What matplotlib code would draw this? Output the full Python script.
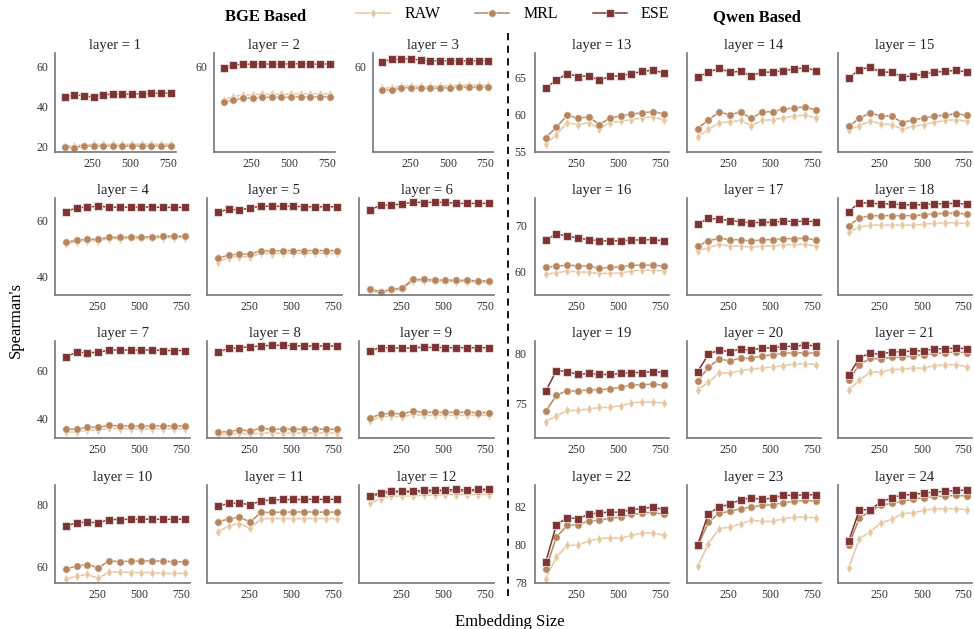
import matplotlib.pyplot as plt
from matplotlib.lines import Line2D

plt.rcParams['font.family'] = ['Liberation Serif', 'DejaVu Serif']

# embedding sizes on the x axis
sizes = [64, 128, 192, 256, 320, 384, 448, 512, 576, 640, 704, 768]

# Spearman's per layer (layers 1-12 BGE, 13-24 Qwen)
raw_scores = [
    [20.4, 20.3, 21.0, 21.1, 21.1, 21.1, 21.1, 21.1, 21.2, 21.2, 21.2, 21.2],
    [43.5, 45.0, 45.8, 46.0, 46.2, 46.2, 46.2, 46.3, 46.5, 46.5, 46.5, 46.5],
    [49.3, 49.5, 50.5, 50.5, 50.3, 50.2, 50.4, 50.5, 50.8, 50.9, 50.8, 50.9],
    [51.5, 52.4, 52.7, 52.7, 53.4, 53.4, 53.5, 53.5, 53.6, 53.8, 53.8, 53.8],
    [45.3, 46.7, 47.1, 47.0, 48.2, 48.1, 48.2, 48.2, 48.2, 48.2, 48.2, 48.2],
    [35.0, 34.2, 35.0, 35.5, 38.5, 38.5, 38.3, 38.3, 38.2, 38.2, 38.0, 38.0],
    [34.2, 34.2, 35.0, 35.0, 35.8, 35.6, 35.6, 35.4, 35.6, 35.6, 35.6, 35.6],
    [33.0, 33.2, 33.6, 33.3, 33.8, 33.7, 33.7, 33.7, 33.8, 33.8, 33.8, 33.8],
    [38.8, 40.5, 40.9, 40.5, 41.7, 41.2, 41.2, 41.2, 41.2, 41.2, 41.2, 41.2],
    [55.7, 56.7, 57.3, 56.0, 58.1, 58.1, 57.9, 57.9, 57.9, 57.6, 57.6, 57.6],
    [71.1, 73.0, 73.8, 72.2, 75.4, 75.4, 75.4, 75.4, 75.4, 75.4, 75.4, 75.4],
    [80.3, 81.9, 82.7, 82.7, 82.7, 83.0, 83.0, 83.2, 83.2, 83.2, 83.2, 83.2],
    [56.0, 57.3, 58.9, 58.65, 58.9, 58.1, 58.9, 59.1, 59.3, 59.55, 59.7, 59.3],
    [57.0, 58.0, 58.9, 59.0, 59.2, 58.5, 59.2, 59.3, 59.55, 59.8, 59.9, 59.55],
    [57.9, 58.5, 59.1, 58.75, 58.65, 58.0, 58.4, 58.65, 58.95, 59.2, 59.3, 59.1],
    [59.3, 59.6, 60.0, 59.85, 59.7, 59.5, 59.5, 59.6, 60.0, 60.2, 60.2, 60.0],
    [64.5, 65.2, 65.9, 65.6, 65.55, 65.25, 65.55, 65.6, 65.8, 65.9, 65.9, 65.6],
    [68.7, 69.7, 70.2, 70.2, 70.2, 70.2, 70.2, 70.4, 70.6, 70.7, 70.7, 70.6],
    [73.1, 73.7, 74.25, 74.25, 74.4, 74.55, 74.55, 74.75, 75.0, 75.1, 75.1, 75.0],
    [76.35, 77.1, 78.05, 78.05, 78.3, 78.45, 78.55, 78.65, 78.8, 78.95, 79.0, 78.9],
    [76.35, 77.3, 78.15, 78.15, 78.4, 78.45, 78.55, 78.55, 78.8, 78.9, 78.9, 78.7],
    [78.21, 79.34, 79.95, 79.95, 80.17, 80.3, 80.33, 80.33, 80.47, 80.59, 80.59, 80.47],
    [78.85, 80.04, 80.82, 80.9, 81.08, 81.25, 81.2, 81.2, 81.34, 81.42, 81.42, 81.39],
    [78.78, 80.3, 80.64, 81.13, 81.3, 81.6, 81.65, 81.77, 81.86, 81.86, 81.86, 81.81],
]

mrl_scores = [
    [19.7, 19.5, 20.3, 20.3, 20.3, 20.3, 20.3, 20.3, 20.3, 20.3, 20.3, 20.3],
    [42.2, 43.3, 44.2, 44.3, 44.7, 44.7, 44.7, 44.7, 45.0, 45.0, 45.0, 45.0],
    [48.3, 48.3, 49.5, 49.5, 49.2, 49.2, 49.3, 49.5, 49.7, 49.8, 49.7, 49.8],
    [52.1, 52.9, 53.2, 53.2, 53.9, 53.9, 54.0, 54.0, 54.1, 54.3, 54.3, 54.3],
    [46.5, 47.6, 48.0, 47.9, 49.2, 49.0, 49.2, 49.2, 49.2, 49.2, 49.2, 49.2],
    [35.5, 34.7, 35.5, 36.0, 39.0, 39.0, 38.8, 38.8, 38.7, 38.7, 38.5, 38.5],
    [35.4, 35.4, 36.2, 36.2, 37.0, 36.8, 36.8, 36.6, 36.8, 36.8, 36.8, 36.8],
    [34.1, 34.4, 35.1, 34.7, 35.8, 35.4, 35.4, 35.4, 35.4, 35.4, 35.4, 35.4],
    [40.0, 41.7, 42.1, 41.8, 43.1, 42.5, 42.5, 42.5, 42.5, 42.5, 42.4, 42.4],
    [58.9, 60.1, 60.5, 59.4, 61.7, 61.4, 61.6, 61.6, 61.7, 61.6, 61.4, 61.4],
    [74.2, 75.4, 75.8, 74.3, 77.4, 77.4, 77.5, 77.5, 77.6, 77.5, 77.5, 77.5],
    [82.5, 83.3, 83.8, 83.9, 83.9, 84.1, 84.1, 84.2, 84.3, 84.3, 84.4, 84.4],
    [56.9, 58.3, 59.9, 59.5, 59.7, 58.65, 59.55, 59.8, 60.1, 60.2, 60.4, 60.1],
    [58.1, 59.3, 60.3, 60.0, 60.3, 59.5, 60.3, 60.4, 60.7, 60.9, 61.0, 60.6],
    [58.4, 59.5, 60.2, 59.8, 59.8, 58.9, 59.3, 59.5, 59.8, 59.9, 60.1, 59.9],
    [60.8, 61.1, 61.3, 61.2, 61.1, 60.6, 60.8, 60.95, 61.3, 61.3, 61.3, 61.1],
    [65.55, 66.7, 67.25, 67.0, 66.9, 66.7, 66.9, 67.0, 67.2, 67.2, 67.25, 66.9],
    [70.0, 71.85, 72.2, 72.3, 72.3, 72.3, 72.3, 72.45, 72.7, 72.8, 72.8, 72.7],
    [74.15, 75.8, 76.25, 76.2, 76.35, 76.35, 76.45, 76.6, 76.85, 76.85, 76.95, 76.8],
    [77.2, 78.65, 79.45, 79.3, 79.55, 79.55, 79.8, 79.9, 80.05, 80.1, 80.1, 80.05],
    [77.3, 78.9, 79.55, 79.45, 79.65, 79.65, 79.8, 79.9, 80.05, 80.1, 80.2, 80.1],
    [78.73, 80.38, 80.99, 81.03, 81.22, 81.25, 81.37, 81.42, 81.56, 81.63, 81.68, 81.56],
    [79.9, 81.16, 81.63, 81.72, 81.86, 81.95, 82.03, 82.07, 82.17, 82.24, 82.3, 82.26],
    [79.95, 81.39, 81.72, 82.03, 82.15, 82.24, 82.35, 82.44, 82.5, 82.52, 82.56, 82.52],
]

ese_scores = [
    [45.0, 45.8, 45.5, 44.7, 46.0, 46.2, 46.2, 46.3, 46.5, 46.7, 46.7, 46.8],
    [59.2, 60.8, 61.3, 61.3, 61.5, 61.3, 61.3, 61.5, 61.5, 61.3, 61.3, 61.5],
    [62.5, 63.7, 64.0, 64.0, 63.3, 63.0, 63.0, 63.0, 63.0, 63.0, 63.0, 63.0],
    [62.9, 64.3, 64.6, 64.9, 64.6, 64.5, 64.6, 64.6, 64.6, 64.5, 64.5, 64.5],
    [62.7, 63.9, 63.5, 64.3, 64.9, 64.9, 64.9, 64.9, 64.7, 64.7, 64.7, 64.7],
    [63.5, 65.3, 65.3, 65.7, 66.3, 66.2, 66.3, 66.3, 65.9, 65.9, 65.9, 65.9],
    [65.9, 67.7, 67.6, 67.7, 68.7, 68.7, 68.7, 68.7, 68.7, 68.5, 68.5, 68.5],
    [67.7, 69.4, 69.7, 70.1, 70.4, 70.7, 70.7, 70.5, 70.4, 70.4, 70.4, 70.4],
    [68.4, 69.7, 69.7, 69.4, 69.7, 69.8, 69.8, 69.7, 69.7, 69.7, 69.7, 69.7],
    [73.0, 74.0, 74.3, 74.0, 75.1, 75.1, 75.2, 75.2, 75.2, 75.2, 75.2, 75.2],
    [79.4, 80.3, 80.5, 79.8, 81.2, 81.4, 81.6, 81.6, 81.6, 81.7, 81.6, 81.7],
    [82.7, 83.8, 84.3, 84.3, 84.3, 84.6, 84.6, 84.6, 84.9, 84.6, 84.9, 84.9],
    [63.6, 64.6, 65.5, 65.1, 65.2, 64.6, 65.15, 65.2, 65.5, 65.8, 65.95, 65.6],
    [65.0, 65.7, 66.2, 65.7, 65.8, 65.2, 65.7, 65.7, 65.9, 66.1, 66.3, 65.9],
    [64.9, 66.05, 66.35, 65.7, 65.7, 65.05, 65.2, 65.4, 65.7, 65.8, 65.95, 65.7],
    [66.9, 68.2, 67.8, 67.3, 67.0, 66.7, 66.7, 66.7, 66.9, 66.9, 67.0, 66.7],
    [70.4, 71.7, 71.5, 71.2, 70.95, 70.7, 70.8, 70.8, 71.1, 70.95, 71.1, 70.95],
    [73.2, 75.2, 75.05, 74.9, 74.9, 74.7, 74.7, 74.7, 74.9, 74.9, 75.05, 74.8],
    [76.2, 78.3, 78.2, 77.9, 78.0, 77.9, 77.9, 78.0, 78.1, 78.1, 78.2, 78.1],
    [78.2, 79.95, 80.4, 80.2, 80.5, 80.35, 80.6, 80.6, 80.75, 80.75, 80.9, 80.8],
    [77.8, 79.6, 80.05, 79.95, 80.2, 80.2, 80.3, 80.3, 80.5, 80.5, 80.6, 80.5],
    [79.08, 81.03, 81.39, 81.34, 81.56, 81.65, 81.68, 81.68, 81.81, 81.86, 81.95, 81.81],
    [79.98, 81.6, 81.95, 82.09, 82.33, 82.42, 82.35, 82.42, 82.56, 82.56, 82.59, 82.59],
    [80.17, 81.81, 81.81, 82.21, 82.42, 82.59, 82.59, 82.68, 82.73, 82.77, 82.82, 82.82],
]

methods = ['RAW', 'MRL', 'ESE']
colors = ['#e6c59f', '#b6855d', '#7e3333']
markers = ['d', 'o', 's']

# y ranges / ticks per facet row: [BGE, Qwen]
row_ylims = [
    [(17.3, 66.9), (54.96, 68.27)],
    [(33.5, 67.8), (54.7, 76.2)],
    [(31.7, 72.5), (71.45, 81.3)],
    [(54.5, 86.3), (77.98, 83.1)],
]
row_yticks = [
    [[20, 40, 60], [55, 60, 65]],
    [[40, 60], [60, 70]],
    [[40, 60], [75, 80]],
    [[60, 80], [78, 80, 82]],
]

W, H = 974, 629
fig = plt.figure(figsize=(W / 100, H / 100), dpi=100)


def px_rect(left, top, width, height):
    return [left / W, 1 - (top + height) / H, width / W, height / H]


row_tops = [53, 198, 341, 485]
row_heights = [99, 97, 97, 98]
bge_lefts = [[55, 214, 372.5], [55, 207, 359], [55, 207, 359], [55, 207, 359]]
bge_widths = [120.5, 135, 135, 135]
qwen_lefts = [535, 687, 838]
qwen_width = 134

for i in range(24):
    group = i // 12
    r, c = (i % 12) // 3, (i % 12) % 3
    if group == 0:
        rect = px_rect(bge_lefts[r][c], row_tops[r], bge_widths[r], row_heights[r])
    else:
        rect = px_rect(qwen_lefts[c], row_tops[r], qwen_width, row_heights[r])
    ax = fig.add_axes(rect)

    series = [raw_scores[i], mrl_scores[i], ese_scores[i]]
    for vals, col, mk in zip(series, colors, markers):
        ax.plot(sizes, vals, color=col, marker=mk, ms=5.5, lw=1.1,
                mec=(1, 1, 1, 0.6), mew=0.8)

    ax.set_xlim(0, 800)
    ax.set_xticks([250, 500, 750])
    ax.set_ylim(row_ylims[r][group])
    ticks = row_yticks[r][group]
    if c == 0:
        ax.set_yticks(ticks)
    elif group == 0 and r == 0:
        # these two facets only kept the top label
        ax.set_yticks(ticks, ['' for t in ticks[:-1]] + [str(ticks[-1])])
    else:
        ax.set_yticks(ticks, ['' for t in ticks])

    ax.set_title('layer = %d' % (i + 1), fontsize=10.5, pad=2.7, color='#222222')
    for s in ['top', 'right']:
        ax.spines[s].set_visible(False)
    for s in ['left', 'bottom']:
        ax.spines[s].set_color('#777777')
        ax.spines[s].set_linewidth(1.2)
    ax.tick_params(axis='x', length=0, pad=4.5, labelsize=8.5, labelcolor='#333333')
    ax.tick_params(axis='y', length=0, pad=4.5 if group == 0 else 6,
                   labelsize=8.5, labelcolor='#333333')

# dashed separator between the two model groups
fig.add_artist(Line2D([508 / W, 508 / W], [1 - 33 / H, 1 - 596 / H], color='black',
                      lw=1.3, ls=(0, (4, 3))))

fig.text(266 / W, 1 - 20.7 / H, 'BGE Based', ha='center', va='baseline',
         fontsize=12, fontweight='bold')
fig.text(757 / W, 1 - 20.7 / H, 'Qwen Based', ha='center', va='baseline',
         fontsize=12, fontweight='bold')

handles = [Line2D([], [], color=col, marker=mk, ms=5.5, lw=1.1,
                  mec=(1, 1, 1, 0.6), mew=0.8)
           for col, mk in zip(colors, markers)]
fig.legend(handles, methods, loc='center', bbox_to_anchor=(513 / W, 1 - 14.5 / H),
           ncol=3, frameon=False, fontsize=11.5, handlelength=2.1,
           handletextpad=0.9, columnspacing=2.2)

fig.text(16 / W, 1 - 319.5 / H, "Spearman's", rotation=90, ha='center',
         va='center', fontsize=12)
fig.text(510 / W, 1 - 626 / H, 'Embedding Size', ha='center', va='baseline',
         fontsize=12)

plt.savefig('out.png', dpi=100)
